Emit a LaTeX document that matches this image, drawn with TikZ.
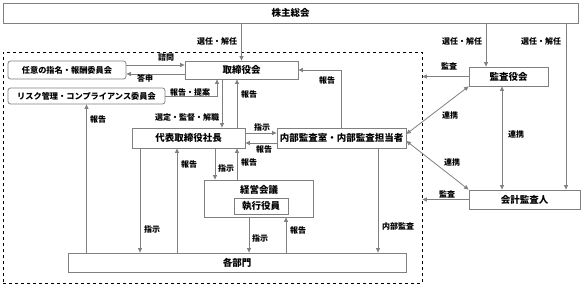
\documentclass[tikz,border=0pt]{standalone}
\usepackage{fontspec}
\setmainfont{Noto Sans CJK JP}
\usetikzlibrary{arrows.meta,calc}
\definecolor{ln}{HTML}{808080}
\tikzset{
  box/.style={draw=ln, line width=0.8pt, fill=white, inner sep=0pt, font=\fontsize{9.5}{10}\selectfont\bfseries},
  rbox/.style={box, rounded corners=2.5pt},
  lab/.style={inner sep=0pt, font=\fontsize{8}{9}\selectfont\bfseries},
  arr/.style={draw=ln, line width=0.8pt, -{Triangle[length=4.5pt,width=4pt]}, shorten >=0pt},
  darr/.style={draw=ln, line width=0.8pt, {Triangle[length=4.5pt,width=4pt]}-{Triangle[length=4.5pt,width=4pt]}},
}
\begin{document}
\begin{tikzpicture}[x=1pt,y=-1pt]
\useasboundingbox (0,0) rectangle (584,286);
% dashed group
\node[draw=black, dashed, line width=0.8pt, minimum width=419pt, minimum height=231pt, inner sep=0pt] (grp) at (212.5,167.5) {};
% boxes
\node[box, minimum width=575pt, minimum height=20pt] (sh) at (290.5,13) {株主総会};
\node[box, minimum width=113pt, minimum height=18pt] (tb) at (241.5,70) {取締役会};
\node[rbox, minimum width=118pt, minimum height=18pt, font=\fontsize{8.2}{9}\selectfont\bfseries] (nin) at (67,70) {任意の指名・報酬委員会};
\node[rbox, minimum width=157pt, minimum height=16pt, font=\fontsize{8.2}{9}\selectfont\bfseries] (risk) at (86.5,96) {リスク管理・コンプライアンス委員会};
\node[box, minimum width=113pt, minimum height=20pt] (dh) at (188.5,138) {代表取締役社長};
\node[box, minimum width=129pt, minimum height=20pt] (na) at (341.5,138) {内部監査室・内部監査担当者};
\node[box, minimum width=109pt, minimum height=37pt] (kk) at (258.5,198.5) {};
\node[inner sep=0pt, font=\fontsize{9.5}{10}\selectfont\bfseries] (kkl) at (259,190) {経営会議};
\node[box, minimum width=54pt, minimum height=16pt] (sy) at (261,206) {執行役員};
\node[box, minimum width=338pt, minimum height=19pt] (bm) at (237,262.5) {各部門};
\node[box, minimum width=79pt, minimum height=19pt] (ky) at (508.5,76.5) {監査役会};
\node[box, minimum width=111pt, minimum height=19pt] (ka) at (524.5,199.5) {会計監査人};
% helper coordinates
\coordinate (k1) at ([xshift=-22.5pt]ky.north);
\coordinate (k2) at ([xshift=41.5pt]ka.north);
\coordinate (t1) at ([xshift=-24.5pt]tb.south);
\coordinate (t2) at ([xshift=-19.5pt]tb.south);
\coordinate (t3) at ([xshift=-4.5pt]tb.south);
\coordinate (d1) at ([xshift=-48.5pt]dh.south);
\coordinate (d2) at ([xshift=-11.5pt]dh.south);
\coordinate (d3) at ([xshift=26.5pt]dh.south);
\coordinate (d4) at ([xshift=48.5pt]dh.south);
\coordinate (m1) at ([xshift=-9.5pt]kk.south);
\coordinate (m2) at ([xshift=27.5pt]kk.south);
\coordinate (n1) at ([xshift=36.5pt]na.south);
\coordinate (v1) at ([xshift=-6.5pt]ky.south);
% connectors
\draw[arr] (sh.south -| tb.north) -- (tb.north);
\draw[arr] (sh.south -| k1) -- (k1);
\draw[arr] (sh.south -| k2) -- (k2);
\draw[arr] ([yshift=5pt]nin.east) -- ([yshift=5pt]nin.east -| tb.west);
\draw[arr] ([yshift=-4pt]tb.west) -- ([yshift=-4pt]tb.west -| nin.east);
\draw[arr] (risk.east) -| (t1);
\draw[arr] (t2) -- (t2 |- dh.north);
\draw[arr] (t3 |- dh.north) -- (t3);
\draw[arr] (na.north) |- (tb.east);
\draw[arr] ([yshift=5pt]dh.east) -- ([yshift=5pt]dh.east -| na.west);
\draw[arr] ([yshift=-5pt]na.west) -- ([yshift=-5pt]na.west -| dh.east);
\draw[arr] (d1) -- (d1 |- bm.north);
\draw[arr] (d2 |- bm.north) -- (d2);
\draw[arr] (d3) -- (d3 |- kk.north);
\draw[arr] (d4 |- kk.north) -- (d4);
\draw[arr] (m1) -- (m1 |- bm.north);
\draw[arr] (m2 |- bm.north) -- (m2);
\draw[arr] (bm.north -| risk.south) -- (risk.south);
\draw[arr] (n1) -- (n1 |- bm.north);
\draw[arr] (ky.west) -- (ky.west -| grp.east);
\draw[arr] (ka.west) -- (ka.west -| grp.east);
\draw[darr] ([yshift=4pt]na.east) -- (ky.south west);
\draw[darr] ([yshift=-3pt]na.east) -- (ka.north west);
\draw[darr] (v1) -- (v1 |- ka.north);
% labels
\node[lab] (l1) at (217,41) {選任・解任};
\node[lab] (l2) at (462,41) {選任・解任};
\node[lab] (l3) at (541,41) {選任・解任};
\node[lab] (l4) at (166,57) {諮問};
\node[lab] (l5) at (145,78) {答申};
\node[lab] (l6) at (190,92) {報告・提案};
\node[lab] (l7) at (187,117) {選定・監督・解職};
\node[lab] (l8) at (249,94) {報告};
\node[lab] (l9) at (327,80) {報告};
\node[lab] (l10) at (262,127) {指示};
\node[lab] (l11) at (264,149) {報告};
\node[lab] (l12) at (152,229) {指示};
\node[lab] (l13) at (189,164) {報告};
\node[lab] (l14) at (226,168) {指示};
\node[lab] (l15) at (249,162) {報告};
\node[lab] (l16) at (260,238) {指示};
\node[lab] (l17) at (298,230) {報告};
\node[lab] (l18) at (98,119) {報告};
\node[lab] (l19) at (398,226) {内部監査};
\node[lab] (l20) at (449,66) {監査};
\node[lab] (l21) at (447,194) {監査};
\node[lab] (l22) at (450,115) {連携};
\node[lab] (l23) at (452,162) {連携};
\node[lab] (l24) at (516,134) {連携};
\end{tikzpicture}
\end{document}
